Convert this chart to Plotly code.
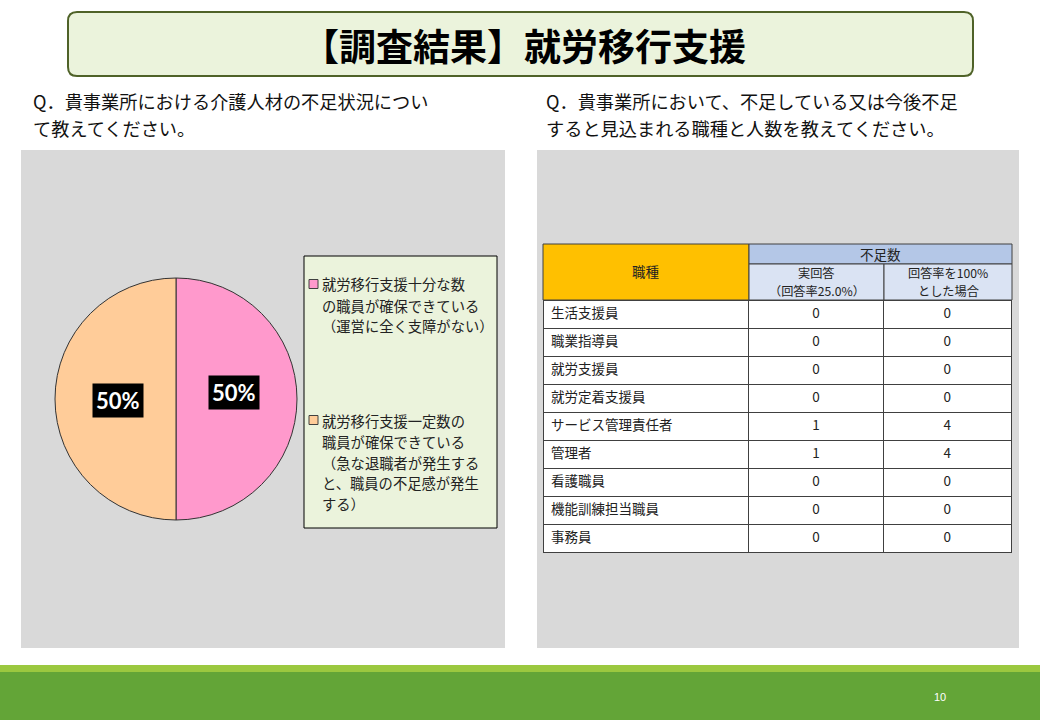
import math
import plotly.graph_objects as go

W, H = 1040, 720


def px(x):
    return x / W


def py(y):
    return 1 - y / H


# ---------------- data ----------------
title_text = "【調査結果】就労移行支援"
question_left = ["Q．貴事業所における介護人材の不足状況につい", "て教えてください。"]
question_right = ["Q．貴事業所において、不足している又は今後不足", "すると見込まれる職種と人数を教えてください。"]

pie_labels = [
    "就労移行支援十分な数の職員が確保できている（運営に全く支障がない）",
    "就労移行支援一定数の職員が確保できている（急な退職者が発生すると、職員の不足感が発生する）",
]
legend_lines = [
    ["就労移行支援十分な数", "の職員が確保できている", "（運営に全く支障がない）"],
    ["就労移行支援一定数の", "職員が確保できている", "（急な退職者が発生する", "と、職員の不足感が発生", "する）"],
]
pie_values = [1, 1]
pie_colors = ["#FF99CC", "#FFCC99"]

table_head_main = "職種"
table_head_group = "不足数"
table_head_cols = [["実回答", "（回答率25.0%）"], ["回答率を100%", "とした場合"]]
job_types = ["生活支援員", "職業指導員", "就労支援員", "就労定着支援員", "サービス管理責任者",
             "管理者", "看護職員", "機能訓練担当職員", "事務員"]
shortage_actual = [0, 0, 0, 0, 1, 1, 0, 0, 0]
shortage_full = [0, 0, 0, 0, 4, 4, 0, 0, 0]
page_number = "10"

# ---------------- styles ----------------
JP = "Noto Sans CJK JP"
LINE = "#404040"
TXT = "#222222"

fig = go.Figure()
shapes = []
annotations = []


def note(text, x, y, size, color=TXT, xanchor="center", yanchor="middle", family=JP, **kw):
    annotations.append(dict(text=text, x=px(x), y=py(y), xref="paper", yref="paper", showarrow=False,
                            font=dict(family=family, size=size, color=color),
                            xanchor=xanchor, yanchor=yanchor, **kw))


# background panels
for x0, x1 in [(21, 505), (537, 1019)]:
    shapes.append(dict(type="rect", xref="paper", yref="paper", x0=px(x0), x1=px(x1),
                       y0=py(648), y1=py(150), fillcolor="#D9D9D9", line=dict(width=0), layer="below"))

# title box (rounded)
bx0, bx1, by0, by1, r = 68, 973, 12, 76, 9
path = (f"M {px(bx0 + r)},{py(by0)} L {px(bx1 - r)},{py(by0)} "
        f"Q {px(bx1)},{py(by0)} {px(bx1)},{py(by0 + r)} L {px(bx1)},{py(by1 - r)} "
        f"Q {px(bx1)},{py(by1)} {px(bx1 - r)},{py(by1)} L {px(bx0 + r)},{py(by1)} "
        f"Q {px(bx0)},{py(by1)} {px(bx0)},{py(by1 - r)} L {px(bx0)},{py(by0 + r)} "
        f"Q {px(bx0)},{py(by0)} {px(bx0 + r)},{py(by0)} Z")
shapes.append(dict(type="path", xref="paper", yref="paper", path=path,
                   fillcolor="#EBF3DC", line=dict(color="#4F6228", width=2), layer="below"))
note(f"<b>{title_text}</b>", 524, 45, 37, color="#000000")

# question texts (one annotation per line)
for lines, x0 in [(question_left, 31), (question_right, 544)]:
    for i, t in enumerate(lines):
        note(t, x0, 101 + 26.5 * i, 18.2, color="#111111", xanchor="left")

# footer
shapes.append(dict(type="rect", xref="paper", yref="paper", x0=0, x1=1, y0=py(672), y1=py(665),
                   fillcolor="#9BC83F", line=dict(width=0), layer="below"))
shapes.append(dict(type="rect", xref="paper", yref="paper", x0=0, x1=1, y0=0, y1=py(672),
                   fillcolor="#63A537", line=dict(width=0), layer="below"))
note(page_number, 940, 697, 11, color="#FFFFFF", family="Liberation Sans Narrow, Liberation Sans")

# ---------------- pie ----------------
cx, cy, rad = 176, 399, 121
fig.add_trace(go.Pie(
    values=pie_values, labels=pie_labels, sort=False, direction="clockwise", rotation=0,
    marker=dict(colors=pie_colors, line=dict(color="#333333", width=1)),
    textinfo="none", hoverinfo="label+percent", showlegend=False,
    domain=dict(x=[px(cx - rad), px(cx + rad)], y=[py(cy + rad), py(cy - rad)]),
))

total = sum(pie_values)
cum = 0
label_offsets = [(0, -6), (0, 1)]
for i, v in enumerate(pie_values):
    mid = (cum + v / 2) / total * 2 * math.pi
    cum += v
    lx = cx + 0.48 * rad * math.sin(mid) + label_offsets[i][0]
    ly = cy - 0.48 * rad * math.cos(mid) + label_offsets[i][1]
    note(f"<b>{round(v / total * 100)}%</b>", lx, ly, 22, color="#FFFFFF", family="Lato",
         bgcolor="#000000", borderpad=3)

# legend box (manual)
shapes.append(dict(type="rect", xref="paper", yref="paper", x0=px(304), x1=px(497), y0=py(528), y1=py(256),
                   fillcolor="#EBF3DC", line=dict(color="#000000", width=1)))
legend_tops = [284, 420]
for k, lines in enumerate(legend_lines):
    y0 = legend_tops[k]
    shapes.append(dict(type="rect", xref="paper", yref="paper", x0=px(309), x1=px(318),
                       y0=py(y0 + 4.5), y1=py(y0 - 4.5), fillcolor=pie_colors[k],
                       line=dict(color="#404040", width=1)))
    for i, t in enumerate(lines):
        note(t, 320, y0 + 21 * i, 14.3, xanchor="left")

# ---------------- table ----------------
col_widths = [206, 135, 128]
t_left = 543
col_edges = [t_left]
for w in col_widths:
    col_edges.append(col_edges[-1] + w)
head_top, head_mid, head_bot = 244, 264, 300
row_h = 28

# header cells
shapes.append(dict(type="rect", xref="paper", yref="paper", x0=px(col_edges[0]), x1=px(col_edges[1]),
                   y0=py(head_bot), y1=py(head_top), fillcolor="#FFC000", line=dict(color=LINE, width=1)))
shapes.append(dict(type="rect", xref="paper", yref="paper", x0=px(col_edges[1]), x1=px(col_edges[3]),
                   y0=py(head_mid), y1=py(head_top), fillcolor="#B4C7E7", line=dict(color=LINE, width=1)))
for j in (1, 2):
    shapes.append(dict(type="rect", xref="paper", yref="paper", x0=px(col_edges[j]), x1=px(col_edges[j + 1]),
                       y0=py(head_bot), y1=py(head_mid), fillcolor="#DAE3F3", line=dict(color=LINE, width=1)))
note(table_head_main, (col_edges[0] + col_edges[1]) / 2, 271, 13.5)
note(table_head_group, (col_edges[1] + col_edges[3]) / 2, 254, 13.5)
for j, lines in enumerate(table_head_cols):
    for i, t in enumerate(lines):
        note(t, (col_edges[j + 1] + col_edges[j + 2]) / 2, 273 + 18 * i, 12.2)

# body rows via go.Table (first row shown in header slot, styled like a cell)
cell_font = dict(family=JP, size=13.5, color=TXT)
fig.add_trace(go.Table(
    domain=dict(x=[px(col_edges[0]), px(col_edges[3])],
                y=[py(head_bot + row_h * len(job_types) + 40), py(head_bot)]),
    columnwidth=col_widths,
    header=dict(values=[job_types[0], str(shortage_actual[0]), str(shortage_full[0])],
                height=row_h, fill_color="#FFFFFF", line=dict(color=LINE, width=1),
                align=["left", "center", "center"], font=cell_font),
    cells=dict(values=[job_types[1:], [str(v) for v in shortage_actual[1:]],
                       [str(v) for v in shortage_full[1:]]],
               height=row_h, fill_color="#FFFFFF", line=dict(color=LINE, width=1),
               align=["left", "center", "center"], font=cell_font),
))

fig.update_layout(width=W, height=H, margin=dict(l=0, r=0, t=0, b=0),
                  paper_bgcolor="#FFFFFF", plot_bgcolor="#FFFFFF",
                  shapes=shapes, annotations=annotations, showlegend=False)
fig.write_html("out.html")
